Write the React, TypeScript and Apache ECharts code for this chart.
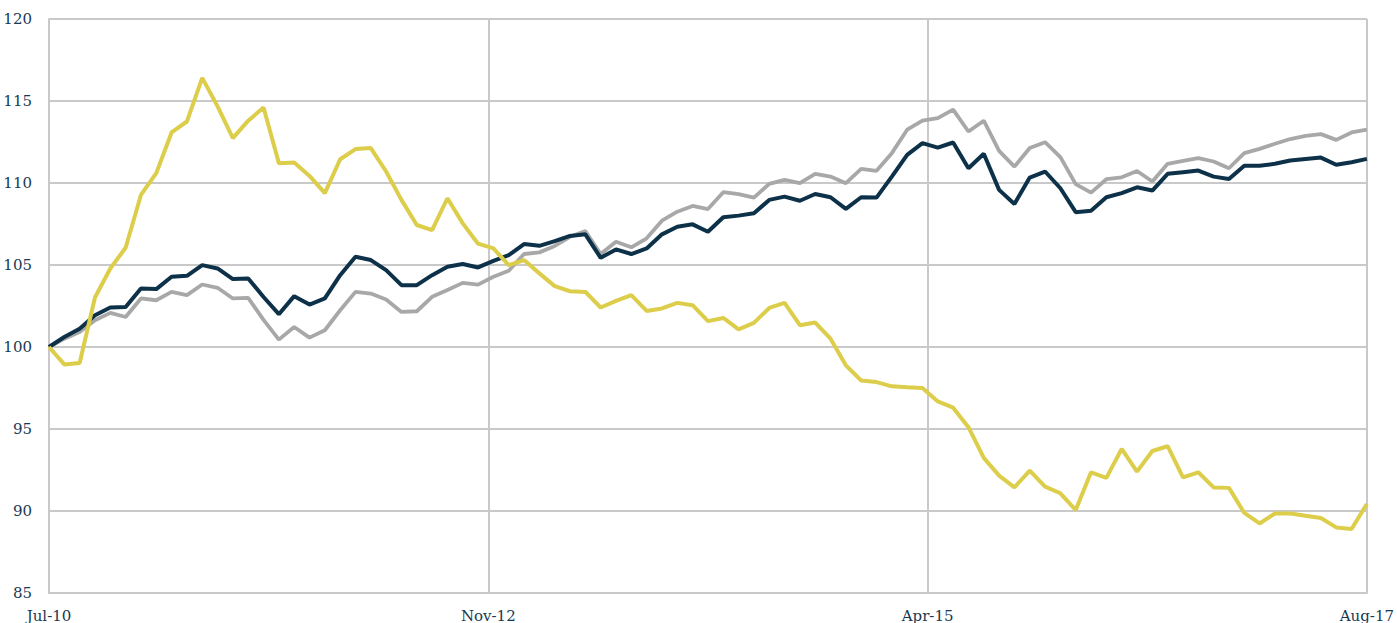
import React, { useEffect, useRef } from "react";
import * as echarts from "echarts";

const tickLabels = ["Jul-10", "Nov-12", "Apr-15", "Aug-17"];

const yellowSeries = [
  100, 98.94, 99.02, 103.02, 104.79, 106.05, 109.27, 110.6, 113.08, 113.75,
  116.41, 114.67, 112.74, 113.8, 114.6, 111.21, 111.25, 110.43, 109.38, 111.45,
  112.07, 112.13, 110.7, 108.97, 107.44, 107.13, 109.07, 107.54, 106.3, 106.01,
  104.99, 105.3, 104.49, 103.71, 103.4, 103.36, 102.41, 102.81, 103.16, 102.2,
  102.35, 102.69, 102.55, 101.58, 101.77, 101.08, 101.47, 102.38, 102.69, 101.33,
  101.49, 100.51, 98.88, 97.96, 97.86, 97.6, 97.54, 97.5, 96.68, 96.3,
  95.11, 93.24, 92.16, 91.44, 92.46, 91.49, 91.08, 90.06, 92.36, 92.02,
  93.79, 92.4, 93.66, 93.95, 92.05, 92.36, 91.44, 91.41, 89.88, 89.24,
  89.85, 89.85, 89.71, 89.57, 89.0, 88.9, 90.43,
];

const navySeries = [
  100, 100.61, 101.12, 101.94, 102.41, 102.44, 103.57, 103.53, 104.28, 104.34,
  104.99, 104.79, 104.14, 104.18, 103.05, 102.0, 103.1, 102.59, 102.96, 104.38,
  105.5, 105.3, 104.69, 103.77, 103.77, 104.38, 104.89, 105.06, 104.85, 105.25,
  105.6, 106.28, 106.17, 106.46, 106.77, 106.87, 105.44, 105.95, 105.67, 106.01,
  106.87, 107.33, 107.48, 107.03, 107.91, 108.01, 108.15, 108.97, 109.17, 108.92,
  109.33, 109.13, 108.42, 109.13, 109.11, 110.39, 111.72, 112.43, 112.16, 112.47,
  110.9, 111.78, 109.58, 108.72, 110.33, 110.7, 109.68, 108.22, 108.31, 109.13,
  109.38, 109.74, 109.54, 110.56, 110.66, 110.76, 110.39, 110.25, 111.05, 111.05,
  111.17, 111.37, 111.47, 111.55, 111.11, 111.27, 111.47,
];

const greySeries = [
  100, 100.51, 100.92, 101.63, 102.08, 101.83, 102.96, 102.85, 103.36, 103.16,
  103.81, 103.61, 102.96, 103.0, 101.65, 100.45, 101.22, 100.57, 101.02, 102.24,
  103.36, 103.26, 102.9, 102.14, 102.18, 103.06, 103.47, 103.91, 103.8, 104.28,
  104.65, 105.67, 105.77, 106.16, 106.72, 107.07, 105.67, 106.42, 106.08, 106.63,
  107.7, 108.25, 108.6, 108.41, 109.44, 109.32, 109.11, 109.95, 110.19, 109.99,
  110.56, 110.39, 109.99, 110.86, 110.74, 111.82, 113.25, 113.81, 113.96, 114.47,
  113.14, 113.8, 111.96, 111.0, 112.13, 112.49, 111.58, 109.93, 109.41, 110.23,
  110.35, 110.73, 110.09, 111.17, 111.35, 111.52, 111.31, 110.9, 111.82, 112.08,
  112.39, 112.68, 112.88, 112.98, 112.63, 113.08, 113.25,
];

const lastIndex = greySeries.length - 1;
const step = lastIndex / (tickLabels.length - 1);

const toPairs = (arr: number[]) => arr.map((v, i) => [i, v]);

const gridColor = "#c9c9c9";
const textColor = "#173a52";
const fontFamily = "'DejaVu Serif', 'Liberation Serif', serif";

export default function App() {
  const ref = useRef<HTMLDivElement>(null);

  useEffect(() => {
    if (!ref.current) return;
    const chart = echarts.init(ref.current, null, { renderer: "svg" });
    chart.setOption({
      animation: false,
      backgroundColor: "#ffffff",
      grid: { left: 49, right: 26, top: 19, bottom: 30, containLabel: false },
      xAxis: {
        type: "value",
        min: 0,
        max: lastIndex,
        interval: step,
        axisLine: { show: true, lineStyle: { color: gridColor, width: 2 } },
        axisTick: { show: false },
        splitLine: { show: true, lineStyle: { color: gridColor, width: 2 } },
        axisLabel: {
          show: true,
          margin: 15,
          color: textColor,
          fontFamily,
          fontSize: 15,
          showMinLabel: true,
          showMaxLabel: true,
          formatter: (v: number) => tickLabels[Math.round(v / step)] ?? "",
        },
      },
      yAxis: {
        type: "value",
        min: 85,
        max: 120,
        interval: 5,
        axisLine: { show: true, lineStyle: { color: gridColor, width: 2 } },
        axisTick: { show: false },
        splitLine: { show: true, lineStyle: { color: gridColor, width: 2 } },
        axisLabel: {
          margin: 17,
          color: textColor,
          fontFamily,
          fontSize: 15,
        },
      },
      series: [
        {
          type: "line",
          data: toPairs(greySeries),
          showSymbol: false,
          symbol: "none",
          lineStyle: { color: "#a8a8a8", width: 3.8 },
          z: 2,
        },
        {
          type: "line",
          data: toPairs(navySeries),
          showSymbol: false,
          symbol: "none",
          lineStyle: { color: "#0d3149", width: 4 },
          z: 3,
        },
        {
          type: "line",
          data: toPairs(yellowSeries),
          showSymbol: false,
          symbol: "none",
          lineStyle: { color: "#dccd4a", width: 4 },
          z: 4,
        },
      ],
    });
    return () => chart.dispose();
  }, []);

  return (
    <div
      ref={ref}
      style={{ position: "fixed", left: 0, top: 0, width: 1397, height: 623 }}
    />
  );
}
